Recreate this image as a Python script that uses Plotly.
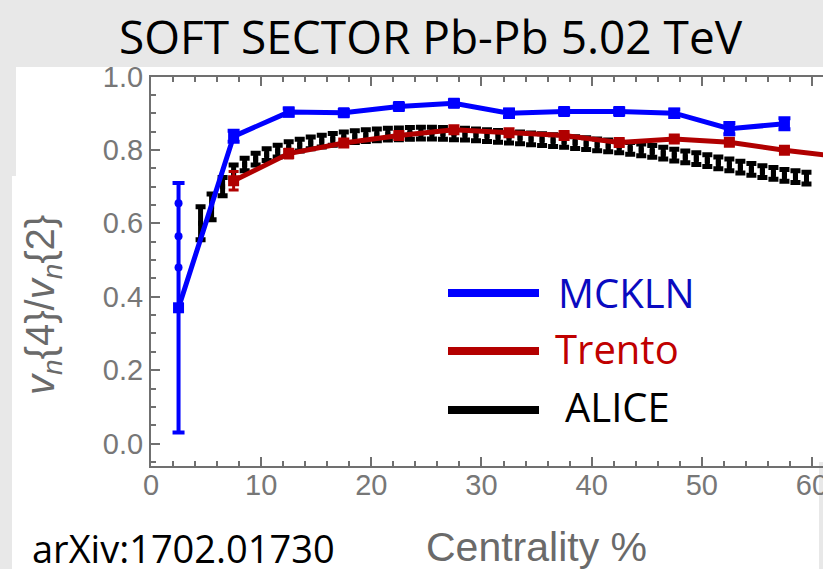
import plotly.graph_objects as go

W, H = 823, 569

# ---------------- data ----------------
mckln_x = [2.5, 7.5, 12.5, 17.5, 22.5, 27.5, 32.5, 37.5, 42.5, 47.5, 52.5, 57.5]
mckln_y = [0.37, 0.837, 0.903, 0.901, 0.918, 0.927, 0.900, 0.905, 0.905, 0.900, 0.858, 0.871]
mckln_err = [0.34, 0.015, 0.010, 0.008, 0.008, 0.008, 0.010, 0.008, 0.008, 0.010, 0.015, 0.015]

# small bulges visible along the MCKLN 0-5% error bar
mckln_bar_x = [2.5, 2.5, 2.5]
mckln_bar_y = [0.655, 0.565, 0.48]

trento_x = [7.5, 12.5, 17.5, 22.5, 27.5, 32.5, 37.5, 42.5, 47.5, 52.5, 57.5, 62.5]
trento_y = [0.716, 0.790, 0.819, 0.839, 0.855, 0.847, 0.839, 0.820, 0.830, 0.821, 0.799, 0.782]
trento_err = [0.025, 0.012, 0.008, 0.008, 0.008, 0.008, 0.008, 0.008, 0.008, 0.008, 0.008, 0.008]

alice_x = [4.5 + i for i in range(56)]
alice_y = [0.600, 0.645, 0.700, 0.740, 0.760, 0.775, 0.787, 0.797, 0.806, 0.813,
           0.819, 0.824, 0.829, 0.833, 0.836, 0.839, 0.841, 0.843, 0.844, 0.845,
           0.846, 0.846, 0.845, 0.844, 0.843, 0.841, 0.839, 0.837, 0.835, 0.833,
           0.830, 0.828, 0.825, 0.823, 0.820, 0.817, 0.814, 0.811, 0.808, 0.804,
           0.800, 0.796, 0.791, 0.786, 0.781, 0.776, 0.771, 0.765, 0.759, 0.753,
           0.747, 0.741, 0.736, 0.731, 0.727, 0.723]
alice_err = [0.045, 0.035, 0.025, 0.019, 0.017, 0.016] + [0.016] * 50

x_ticks = [0, 10, 20, 30, 40, 50, 60]
y_ticks = [0.0, 0.2, 0.4, 0.6, 0.8, 1.0]

legend_names = ["MCKLN", "Trento", "ALICE"]
legend_colors = ["#0000ff", "#b40000", "#000000"]
legend_text_colors = ["#0a0ac0", "#c00000", "#000000"]

title_text = "SOFT SECTOR Pb-Pb 5.02 TeV"
ref_text = "arXiv:1702.01730"

BLUE = "#0000ff"
RED = "#b00000"
AXC = "#707070"


def px(x):
    return x / W


def py(y):
    return 1 - y / H


fig = go.Figure()

fig.add_trace(go.Scatter(
    x=alice_x, y=alice_y, mode="markers",
    marker=dict(color="black", size=5, symbol="square"),
    error_y=dict(type="data", array=alice_err, color="black", thickness=5, width=5),
    showlegend=False, cliponaxis=True))

fig.add_trace(go.Scatter(
    x=trento_x, y=trento_y, mode="lines+markers",
    line=dict(color=RED, width=5),
    marker=dict(color=RED, size=11, symbol="square"),
    error_y=dict(type="data", array=trento_err, color=RED, thickness=3, width=5),
    showlegend=False))

fig.add_trace(go.Scatter(
    x=mckln_x, y=mckln_y, mode="lines+markers",
    line=dict(color=BLUE, width=5),
    marker=dict(color=BLUE, size=11, symbol="square"),
    error_y=dict(type="data", array=mckln_err, color=BLUE, thickness=4, width=6),
    showlegend=False))

fig.add_trace(go.Scatter(
    x=mckln_bar_x, y=mckln_bar_y, mode="markers",
    marker=dict(color=BLUE, size=8, symbol="circle"),
    showlegend=False))

# ---------------- background / slide ----------------
shapes = [
    dict(type="rect", xref="paper", yref="paper", x0=px(16), x1=px(823), y0=py(177), y1=py(67),
         fillcolor="white", line=dict(width=0), layer="below"),
    dict(type="rect", xref="paper", yref="paper", x0=px(12), x1=px(823), y0=py(462), y1=py(176),
         fillcolor="white", line=dict(width=0), layer="below"),
    dict(type="rect", xref="paper", yref="paper", x0=px(12), x1=px(819), y0=py(569), y1=py(461),
         fillcolor="white", line=dict(width=0), layer="below"),
]

# legend lines
leg_y = [293, 351, 410]
for c, yy in zip(legend_colors, leg_y):
    shapes.append(dict(type="line", xref="paper", yref="paper", x0=px(448), x1=px(539),
                       y0=py(yy), y1=py(yy), line=dict(color=c, width=8), layer="above"))

annotations = []
leg_tx = [556, 553, 563]
leg_ty = [292, 348, 407]
for name, c, xx, yy in zip(legend_names, legend_text_colors, leg_tx, leg_ty):
    annotations.append(dict(text=name, xref="paper", yref="paper", x=px(xx), y=py(yy),
                            xanchor="left", yanchor="middle", showarrow=False,
                            font=dict(family="Open Sans", size=40, color=c)))

annotations.append(dict(text=title_text, xref="paper", yref="paper", x=px(431), y=py(36),
                        xanchor="center", yanchor="middle", showarrow=False,
                        font=dict(family="Open Sans", size=46, color="black")))
annotations.append(dict(text=ref_text, xref="paper", yref="paper", x=px(30), y=py(548),
                        xanchor="left", yanchor="middle", showarrow=False,
                        font=dict(family="Open Sans", size=38, color="black")))
annotations.append(dict(text="Centrality %", xref="paper", yref="paper", x=px(536), y=py(547),
                        xanchor="center", yanchor="middle", showarrow=False,
                        font=dict(family="Liberation Sans", size=41, color="#6a6a6a")))
annotations.append(dict(text="<i>v</i><sub><i>n</i></sub>{4}/<i>v</i><sub><i>n</i></sub>{2}",
                        xref="paper", yref="paper", x=px(43), y=py(305), textangle=-90,
                        xanchor="center", yanchor="middle", showarrow=False,
                        font=dict(family="Liberation Sans", size=40, color="#6a6a6a")))

fig.update_layout(
    width=W, height=H, autosize=False,
    margin=dict(l=0, r=0, t=0, b=0, pad=0),
    paper_bgcolor="#e8e8e8", plot_bgcolor="rgba(0,0,0,0)",
    shapes=shapes, annotations=annotations, showlegend=False,
    xaxis=dict(domain=[px(151), 1.0], range=[0, 61.0], tickvals=x_ticks,
               automargin=False, ticklabeloverflow="allow", ticklabelstandoff=-8,
               ticks="inside", ticklen=9, tickwidth=2, tickcolor=AXC,
               minor=dict(ticks="inside", dtick=2, tick0=0, ticklen=5, tickwidth=2, tickcolor=AXC),
               showline=True, linecolor=AXC, linewidth=2, mirror="ticks",
               showgrid=False, zeroline=False,
               tickfont=dict(family="Liberation Sans", size=29, color="#777777")),
    yaxis=dict(domain=[py(466), py(76.5)], range=[-0.061, 1.0], tickvals=y_ticks,
               tickformat=".1f", automargin=False, ticklabeloverflow="allow",
               ticks="inside", ticklen=9, tickwidth=2, tickcolor=AXC,
               minor=dict(ticks="inside", dtick=0.05, tick0=0, ticklen=5, tickwidth=2, tickcolor=AXC),
               showline=True, linecolor=AXC, linewidth=2,
               showgrid=False, zeroline=False,
               tickfont=dict(family="Liberation Sans", size=29, color="#777777")),
)

fig.write_html("out.html")
